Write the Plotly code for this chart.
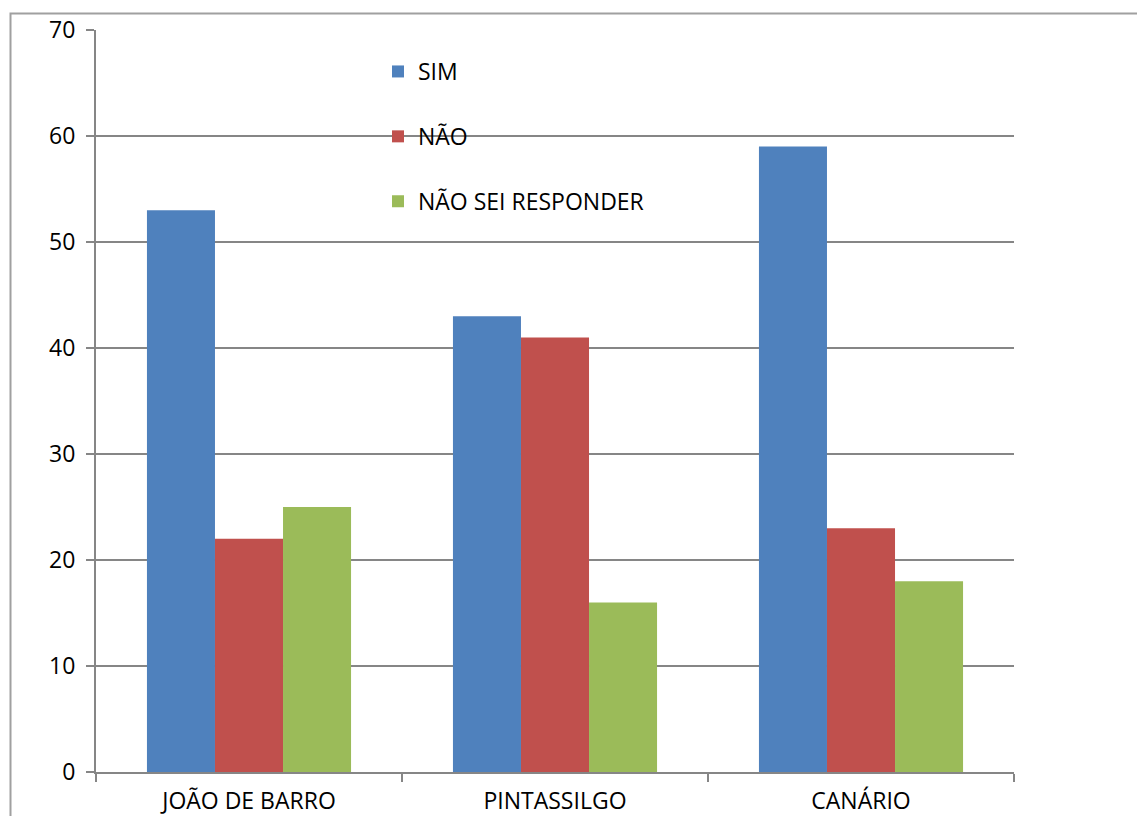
import plotly.graph_objects as go

categories = ["JOÃO DE BARRO", "PINTASSILGO", "CANÁRIO"]
sim = [53, 43, 59]
nao = [22, 41, 23]
nao_sei = [25, 16, 18]

series = [
    ("SIM", sim, "#4F81BD"),
    ("NÃO", nao, "#C0504D"),
    ("NÃO SEI RESPONDER", nao_sei, "#9BBB59"),
]

W, H = 1137, 816
L, R, T, B = 96, 1014, 30, 772

fig = go.Figure()
for i, (name, vals, color) in enumerate(series):
    fig.add_trace(go.Bar(
        x=categories, y=vals, name=name,
        marker=dict(color=color, line=dict(width=0)),
        legendgroup=f"g{i}",
    ))

grid = "#868686"
font = "'Open Sans', Lato, sans-serif"
fs = 23

# outer chart frame
fx0 = (10.5 - L) / (R - L)
fy1 = (B - 13.5) / (B - T)
fig.add_shape(type="rect", xref="paper", yref="paper",
              x0=fx0, x1=1.3, y0=-0.2, y1=fy1,
              line=dict(color="#A0A0A0", width=2), layer="below")

fig.update_layout(
    width=W, height=H,
    margin=dict(l=L, r=W - R, t=T, b=H - B, pad=0, autoexpand=False),
    paper_bgcolor="white", plot_bgcolor="white",
    barmode="group", bargap=0.333, bargroupgap=0,
    font=dict(family=font, size=fs, color="#000000"),
    showlegend=True,
    legend=dict(
        x=(378 - L) / (R - L), y=(B - 50) / (B - T),
        xanchor="left", yanchor="top",
        font=dict(family=font, size=fs, color="#000"),
        tracegroupgap=32, traceorder="grouped",
        bgcolor="rgba(0,0,0,0)", itemwidth=30,
    ),
    xaxis=dict(
        showline=True, linecolor=grid, linewidth=2,
        ticks="outside", tickson="boundaries", ticklen=8,
        tickcolor=grid, tickwidth=2, showgrid=False,
        tickfont=dict(size=fs), ticklabelstandoff=7, automargin=False,
    ),
    yaxis=dict(
        range=[0, 70], dtick=10, tick0=0,
        showline=True, linecolor=grid, linewidth=2,
        ticks="outside", ticklen=8, tickcolor=grid, tickwidth=2,
        showgrid=True, gridcolor=grid, gridwidth=1.5,
        zeroline=False, tickfont=dict(size=fs),
        ticklabelstandoff=6, automargin=False,
    ),
)

fig.write_html("out.html")
